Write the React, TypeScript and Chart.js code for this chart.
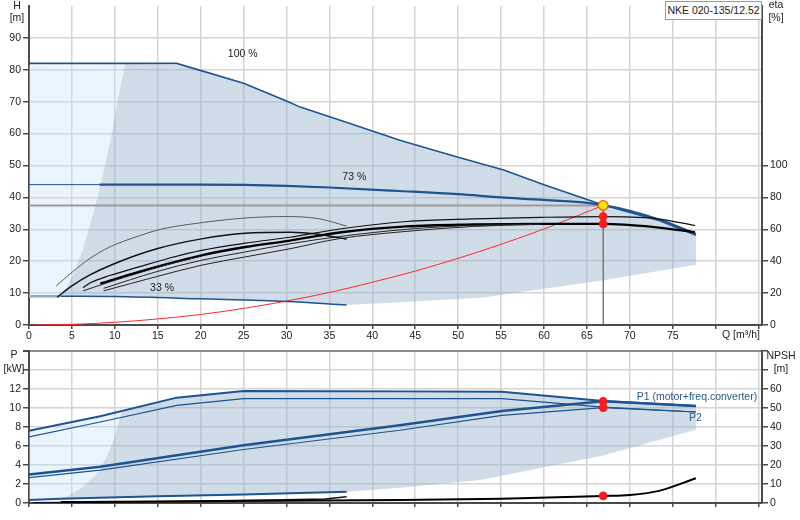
import { useEffect, useRef } from 'react'
import { Chart, registerables } from 'chart.js'

Chart.register(...registerables)

type Pt = [number, number]

// axis ticks
const qTicks = [0, 5, 10, 15, 20, 25, 30, 35, 40, 45, 50, 55, 60, 65, 70, 75, 80, 85]
const qLastLabel = 75
const hTicks = [0, 10, 20, 30, 40, 50, 60, 70, 80, 90]
const etaTicks = [0, 20, 40, 60, 80, 100]
const pTicks = [0, 2, 4, 6, 8, 10, 12, 14, 16]
const pLastLabel = 12
const npshTicks = [0, 10, 20, 30, 40, 50, 60, 70, 80]
const npshLastLabel = 60

// head curves, Q [m3/h] -> H [m]
const head100: Pt[] = [[0, 82], [17.2, 82], [25, 75.8], [30, 70.2], [31.6, 68.3], [37.4, 63.2], [43.2, 57.9], [50, 52.6], [55.3, 48.6], [60, 44], [66.9, 37.6], [73.5, 32.7], [77.7, 28.1]]
const head73Start: Pt[] = [[0, 44], [8.2, 44]]
const head73: Pt[] = [[8.2, 44], [20, 44], [25, 43.9], [30, 43.6], [35, 43.1], [43.2, 42], [50, 41], [55, 40], [60, 39.2], [66.9, 37.6], [73.5, 33], [77.7, 28.5]]
const head33Start: Pt[] = [[0, 9], [3.7, 9]]
const head33: Pt[] = [[3.7, 9], [10, 8.9], [20, 8.2], [30, 7.4], [37, 6.3]]
const systemCurve: Pt[] = [[0.7, 0], [5, 0.2], [10, 0.85], [15, 1.9], [20, 3.3], [25, 5.2], [30, 7.5], [35, 10.2], [40, 13.4], [45, 16.9], [50, 20.9], [55, 25.3], [60, 30.1], [66.9, 37.5]]
const dutyLevel: Pt[] = [[0, 37.5], [66.9, 37.5]]
const dutyDrop: Pt[] = [[66.9, 37.5], [66.9, 0]]
const dutyPoint: Pt[] = [[66.9, 37.5]]

// operating field outline (H panel)
const fieldEdgeH: Pt[] = [[3.5, 9], [4.4, 12], [5.2, 16], [6.3, 24], [7.6, 36], [8.6, 47], [9.5, 58], [10.3, 70], [11.2, 81.8]]
const fieldTopH: Pt[] = [[17.2, 81.5], [21, 79.4]]
const fieldBottomH: Pt[] = [[77.7, 18.9], [66.9, 14], [52.9, 8.6], [43.2, 7.1]]
const lightCornerH: Pt[] = [[0, 9], [0, 81.5]]

// efficiency curves, Q -> eta [%]
const etaA: Pt[] = [[3.15, 24.4], [5, 33], [7.1, 41.7], [9.4, 48.9], [12.9, 56], [15.3, 60], [18.8, 63.2], [25, 67], [30, 68], [33.9, 66.5], [37, 62]]
const etaB: Pt[] = [[3.3, 17.5], [5, 24.5], [7.1, 31.4], [10, 38.6], [14.9, 47.8], [20.1, 54], [25.2, 57.5], [30.4, 58.1], [33.5, 57], [37, 53.8]]
const etaC: Pt[] = [[6.3, 23.4], [7.1, 26.3], [9.4, 31], [12.9, 36.6], [16.4, 42], [20.1, 46.8], [25.2, 51.3], [30.4, 55], [36.2, 60.2], [44, 64.9], [51.8, 66.5], [59.6, 67.5], [66.9, 68], [72.8, 66.9], [77.6, 62.4]]
const etaD: Pt[] = [[8.3, 25.9], [12.9, 33.5], [20.1, 43.7], [25.2, 48.9], [30.4, 52.9], [36.2, 58], [44, 61.8], [51.8, 63], [59.6, 63.4], [66.9, 63.4], [72.8, 61.4], [77.6, 58.2]]
const etaE: Pt[] = [[8.7, 23], [14.9, 33.5], [20.1, 40.6], [25.2, 45.8], [30.4, 50.9], [36.2, 55.5], [44, 60], [51.8, 62.5], [59.6, 63.3]]
const etaF: Pt[] = [[8.7, 21.4], [14.9, 30.4], [20.1, 37.5], [25.2, 42.7], [30.4, 47.8], [36.2, 54.2], [44, 58.7], [51.8, 61.8], [59.6, 63.2]]
const etaG: Pt[] = [[6.3, 21.4], [9.4, 27], [12.9, 32.8], [16.4, 38.3], [20.1, 43.2]]
const etaDots: Pt[] = [[66.9, 68], [66.9, 63.4]]

// power curves, Q -> P [kW]
const p1Max: Pt[] = [[0, 7.59], [8.3, 9.13], [17.2, 11.09], [25, 11.8], [43.2, 11.75], [55.1, 11.7], [66.9, 10.73], [77.7, 10.21]]
const p2Max: Pt[] = [[0, 6.96], [8.3, 8.53], [17.2, 10.28], [25, 10.98], [43.2, 10.98], [55.1, 10.98], [66.9, 10.1], [77.7, 9.58]]
const p1Duty: Pt[] = [[0, 3.0], [8.3, 3.81], [25, 6.09], [43.2, 8.18], [55.1, 9.69], [66.9, 10.7], [77.7, 10.21]]
const p2Duty: Pt[] = [[0, 2.68], [8.3, 3.46], [25, 5.63], [43.2, 7.66], [55.1, 9.23], [66.9, 10.04], [77.7, 9.58]]
const p1Min: Pt[] = [[0, 0.31], [3.6, 0.45], [15, 0.7], [25, 0.9], [37, 1.19]]
const p2Min: Pt[] = [[0.5, 0.05], [10, 0.12], [20, 0.22], [30, 0.34], [34.5, 0.42], [37, 0.66]]
const powerDots: Pt[] = [[66.9, 10.7], [66.9, 10.05]]

// NPSH, Q -> NPSH [m]
const npsh: Pt[] = [[3.7, 0.5], [10, 0.6], [20, 0.9], [30, 1.2], [43.2, 1.6], [55.1, 2.3], [66.9, 3.7], [70, 4.2], [73.5, 6.5], [77.7, 13]]
const npshDot: Pt[] = [[66.9, 3.7]]

// operating field outline (P panel)
const fieldEdgeP: Pt[] = [[3.6, 0.45], [4.4, 0.66], [6.3, 1.7], [7.9, 3.1], [9.05, 4.86], [10, 6.96], [10.6, 9.06], [10.9, 9.7]]
const fieldBottomP: Pt[] = [[77.7, 7.7], [66.9, 5], [52.6, 2.41], [43.2, 1.6]]

// curve captions: text, Q, value
const headCaptions: [string, number, number][] = [['100 %', 24.9, 84.8], ['73 %', 37.9, 46.5], ['33 %', 15.5, 11.5]]
const powerCaptions: [string, number, number][] = [['P1 (motor+freq.converter)', 70.8, 11.15], ['P2', 76.9, 8.95]]

const FONT = "'Liberation Sans', Arial, sans-serif"
const BLUE = '#1d5491'
const GRID = '#d4d4d4'
const AXIS = '#4a4a4a'
const FIELD = 'rgba(150, 178, 204, 0.45)'
const LIGHT = 'rgba(200, 225, 246, 0.38)'
const tickFont = { family: FONT, size: 10.5 }

const xy = (pts: Pt[]) => pts.map(([x, y]) => ({ x, y }))

function curve(pts: Pt[], color: string, width: number, axis: string, order = 2, smooth = true) {
  return {
    data: xy(pts), showLine: true, borderColor: color, borderWidth: width, pointRadius: 0,
    fill: false, yAxisID: axis, order, cubicInterpolationMode: smooth ? 'monotone' : 'default', tension: 0
  }
}

function field(pts: Pt[], color: string, axis: string, order: number) {
  return {
    data: xy(pts), showLine: true, borderWidth: 0, borderColor: 'rgba(0,0,0,0)', backgroundColor: color,
    pointRadius: 0, fill: 'shape', yAxisID: axis, order, tension: 0
  }
}

function dots(pts: Pt[], color: string, edge: string, r: number, axis: string) {
  return {
    data: xy(pts), showLine: false, pointRadius: r, pointBackgroundColor: color,
    pointBorderColor: edge, pointBorderWidth: 1.2, yAxisID: axis, order: 0
  }
}

const setTicks = (values: number[]) => (axis: any) => {
  axis.ticks = values.map(value => ({ value }))
}
const setWidth = (w: number) => (axis: any) => {
  axis.width = w
  axis.paddingTop = 0
  axis.paddingBottom = 0
}
const setHeight = (h: number) => (axis: any) => {
  axis.height = h
  axis.paddingLeft = 0
  axis.paddingRight = 0
}

function captionPlugin(captions: [string, number, number][], axis: string, color: string, align: CanvasTextAlign) {
  return {
    id: 'captions-' + axis,
    afterDatasetsDraw(chart: any) {
      const { ctx } = chart
      const xs = chart.scales.x
      const ys = chart.scales[axis]
      ctx.save()
      ctx.font = `10.5px ${FONT}`
      ctx.fillStyle = color
      ctx.textAlign = align
      ctx.textBaseline = 'middle'
      captions.forEach(([text, q, v]) => ctx.fillText(text, xs.getPixelForValue(q), ys.getPixelForValue(v)))
      ctx.restore()
    }
  }
}

function xScale(showLabels: boolean) {
  return {
    type: 'linear', min: 0, max: 85.4,
    afterBuildTicks: setTicks(qTicks),
    afterFit: setHeight(17),
    grid: { color: GRID, lineWidth: 1.5, tickLength: 4, tickColor: AXIS },
    border: { color: AXIS, width: 2 },
    ticks: {
      font: tickFont, color: '#222', padding: 1, maxRotation: 0, autoSkip: false,
      callback: (v: any) => (showLabels && Number(v) <= qLastLabel ? String(v) : '')
    }
  }
}

function sideScale(position: string, min: number, max: number, ticks: number[], last: number, width: number, gridOn: boolean, topLine?: number) {
  return {
    type: 'linear', position, min, max,
    afterBuildTicks: setTicks(ticks),
    afterFit: setWidth(width),
    grid: {
      drawOnChartArea: gridOn,
      color: (c: any) => (topLine !== undefined && c.tick && c.tick.value === topLine ? '#8a8a8a' : GRID),
      lineWidth: (c: any) => (topLine !== undefined && c.tick && c.tick.value === topLine ? 2 : 1.5),
      tickLength: 6, tickColor: AXIS
    },
    border: { color: AXIS, width: 2 },
    ticks: {
      font: tickFont, color: '#222', padding: 2,
      callback: (v: any) => (Number(v) <= last ? String(v) : '')
    }
  }
}

function topConfig(): any {
  const darkH = [...fieldEdgeH, ...fieldTopH, ...head100.slice(2), ...fieldBottomH, ...[...head33].reverse()]
  const lightH = [...lightCornerH, ...[...fieldEdgeH].reverse()]
  return {
    type: 'scatter',
    data: {
      datasets: [
        field(lightH, LIGHT, 'y', 12),
        field(darkH, FIELD, 'y', 11),
        curve(dutyLevel, '#9b9b9b', 2, 'y', 6, false),
        curve(dutyDrop, '#6a6a6a', 1.3, 'y', 6, false),
        curve(systemCurve, '#ff2a2a', 1, 'y', 5),
        curve(head100, BLUE, 1.6, 'y', 3, false),
        curve(head73Start, BLUE, 1, 'y', 3, false),
        curve(head73, BLUE, 2.2, 'y', 3),
        curve(head33Start, '#93a8be', 2.5, 'y', 3, false),
        curve(head33, BLUE, 1.5, 'y', 3),
        curve(etaA, '#5a5a5a', 1, 'eta', 2),
        curve(etaB, '#111', 1.5, 'eta', 2),
        curve(etaG, '#222', 1, 'eta', 2),
        curve(etaF, '#222', 1, 'eta', 2),
        curve(etaE, '#222', 1, 'eta', 2),
        curve(etaC, '#111', 1.2, 'eta', 2),
        curve(etaD, '#000', 2.3, 'eta', 2),
        dots(etaDots, '#ff1a1a', '#ff1a1a', 3.8, 'eta'),
        dots(dutyPoint, '#ffe600', '#ff5a00', 4.8, 'y')
      ]
    },
    options: {
      responsive: false, animation: false, events: [],
      layout: { padding: 0 },
      plugins: { legend: { display: false }, tooltip: { enabled: false } },
      scales: {
        x: xScale(true),
        y: sideScale('left', 0, 100, hTicks, 90, 29, true),
        eta: sideScale('right', 0, 200, etaTicks, 100, 38, false)
      }
    },
    plugins: [captionPlugin(headCaptions, 'y', '#222', 'center')]
  }
}

function bottomConfig(): any {
  const darkP = [...fieldEdgeP, ...p1Max.slice(2), ...fieldBottomP, ...p1Min.slice(1).reverse()]
  const lightP = [[0, 0.31] as Pt, ...p1Max.slice(0, 2), ...[...fieldEdgeP].reverse()]
  return {
    type: 'scatter',
    data: {
      datasets: [
        field(lightP, LIGHT, 'p', 12),
        field(darkP, FIELD, 'p', 11),
        curve(p1Max, BLUE, 2, 'p', 3, false),
        curve(p2Max, BLUE, 1.2, 'p', 3, false),
        curve(p1Duty, BLUE, 2.5, 'p', 3, false),
        curve(p2Duty, BLUE, 1.2, 'p', 3, false),
        curve(p1Min, BLUE, 2, 'p', 3, false),
        curve(p2Min, '#111', 1.3, 'p', 3, false),
        curve(npsh, '#000', 2, 'npsh', 2),
        dots(powerDots, '#ff1a1a', '#ff1a1a', 3.8, 'p'),
        dots(npshDot, '#ff1a1a', '#ff1a1a', 3.8, 'npsh')
      ]
    },
    options: {
      responsive: false, animation: false, events: [],
      layout: { padding: { top: 9 } },
      plugins: { legend: { display: false }, tooltip: { enabled: false } },
      scales: {
        x: xScale(false),
        p: sideScale('left', 0, 16, pTicks, pLastLabel, 29, true, 16),
        npsh: sideScale('right', 0, 80, npshTicks, npshLastLabel, 38, false)
      }
    },
    plugins: [captionPlugin(powerCaptions, 'p', '#2a5a8e', 'left')]
  }
}

const text = (left: number, top: number, width: number, align: 'left' | 'center') => ({
  position: 'absolute' as const, left, top, width, textAlign: align, lineHeight: '12px', whiteSpace: 'nowrap' as const
})

export default function App() {
  const topRef = useRef<HTMLCanvasElement>(null)
  const bottomRef = useRef<HTMLCanvasElement>(null)

  useEffect(() => {
    if (!topRef.current || !bottomRef.current) return
    const top = new Chart(topRef.current, topConfig())
    const bottom = new Chart(bottomRef.current, bottomConfig())
    return () => {
      top.destroy()
      bottom.destroy()
    }
  }, [])

  return (
    <div style={{ position: 'absolute', left: 0, top: 0, width: 800, height: 520, background: '#fff', fontFamily: FONT, fontSize: 10.5, color: '#222' }}>
      <canvas ref={topRef} width={800} height={342} style={{ position: 'absolute', left: 0, top: 0 }} />
      <canvas ref={bottomRef} width={800} height={178} style={{ position: 'absolute', left: 0, top: 342 }} />

      {/* axis units */}
      <div style={text(0, -1, 34, 'center')}>H</div>
      <div style={text(0, 11, 34, 'center')}>[m]</div>
      <div style={text(764, -2, 24, 'center')}>eta</div>
      <div style={text(764, 11, 24, 'center')}>[%]</div>
      <div style={text(722, 328, 40, 'left')}>Q [m³/h]</div>
      <div style={text(0, 348, 28, 'center')}>P</div>
      <div style={text(0, 362, 28, 'center')}>[kW]</div>
      <div style={text(764, 349, 34, 'center')}>NPSH</div>
      <div style={text(764, 362, 34, 'center')}>[m]</div>

      {/* pump title box */}
      <div style={{ position: 'absolute', left: 665, top: 1, width: 95, height: 17, border: '1px solid #9a9a9a', background: '#fff', lineHeight: '17px', textAlign: 'center', whiteSpace: 'nowrap' }}>
        NKE 020-135/12.52
      </div>
    </div>
  )
}
